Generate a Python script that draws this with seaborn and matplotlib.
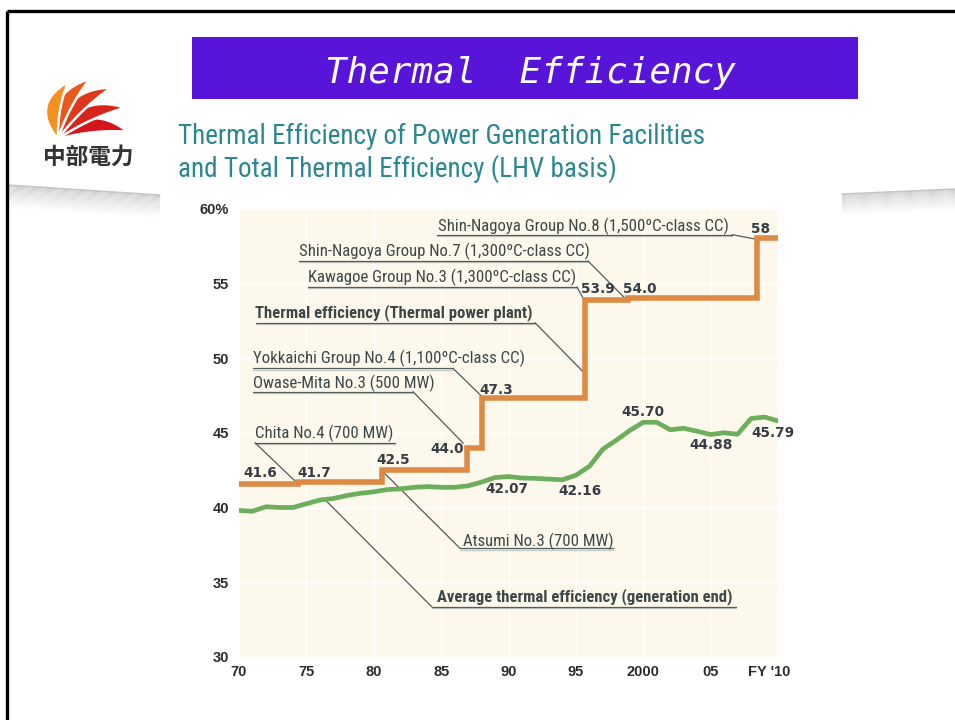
import numpy as np
import matplotlib
matplotlib.use("Agg")
import matplotlib.pyplot as plt
import matplotlib.transforms as mtransforms
from matplotlib import font_manager as fm
from matplotlib.patches import Rectangle, Polygon
import pandas as pd
import seaborn as sns

# ---------------- data ----------------
avg_years = list(range(70, 111))
avg_eff = [39.8, 39.75, 40.05, 40.0, 40.0, 40.25, 40.5, 40.6, 40.8, 40.95,
           41.05, 41.2, 41.25, 41.35, 41.4, 41.35, 41.35, 41.45, 41.7, 42.0,
           42.07, 41.97, 41.95, 41.9, 41.85, 42.16, 42.75, 43.9, 44.5, 45.15,
           45.70, 45.70, 45.2, 45.3, 45.1, 44.88, 45.0, 44.9, 45.95, 46.05,
           45.79]

plant_years = [70, 74.35, 80.6, 86.95, 88.05, 95.65, 98.9, 108.45, 110]
plant_eff = [41.6, 41.7, 42.5, 44.0, 47.3, 53.9, 54.0, 58.0, 58.0]
plant_labels = ["41.6", "41.7", "42.5", "44.0", "47.3", "53.9", "54.0", "58"]

avg_label_text = ["42.07", "42.16", "45.70", "44.88", "45.79"]

x_ticks = [70, 75, 80, 85, 90, 95, 100, 105, 110]
x_tick_labels = ["70", "75", "80", "85", "90", "95", "2000", "05", "FY '10"]
y_ticks = [30, 35, 40, 45, 50, 55, 60]
y_tick_labels = ["30", "35", "40", "45", "50", "55", "60%"]

unit_names = [
    "Shin-Nagoya Group No.8 (1,500ºC-class CC)",
    "Shin-Nagoya Group No.7 (1,300ºC-class CC)",
    "Kawagoe Group No.3 (1,300ºC-class CC)",
    "Thermal efficiency (Thermal power plant)",
    "Yokkaichi Group No.4 (1,100ºC-class CC)",
    "Owase-Mita No.3 (500 MW)",
    "Chita No.4 (700 MW)",
    "Atsumi No.3 (700 MW)",
    "Average thermal efficiency (generation end)",
]

title_text = "Thermal  Efficiency"
subtitle_lines = ["Thermal Efficiency of Power Generation Facilities",
                  "and Total Thermal Efficiency (LHV basis)"]
company_name = "中部電力"

# ---------------- style ----------------
sns.set_theme(style="white")
plt.rcParams["font.family"] = ["DejaVu Sans"]

avail = {f.name for f in fm.fontManager.ttflist}
if "Roboto Condensed" in avail:
    NARROW = dict(family="Roboto Condensed")
    REG_SIZE, BOLD_SIZE, SUB_SIZE = 12.1, 12.0, 19.5
elif "Liberation Sans Narrow" in avail:
    NARROW = dict(family="Liberation Sans Narrow")
    REG_SIZE, BOLD_SIZE, SUB_SIZE = 12.3, 11.5, 19.0
else:
    NARROW = dict(family="DejaVu Sans", stretch="condensed")
    REG_SIZE, BOLD_SIZE, SUB_SIZE = 10.7, 9.7, 17.3
TICKFONT = "Liberation Sans" if "Liberation Sans" in avail else "DejaVu Sans"

ORANGE = "#DD8A45"
GREEN = "#6DAE5C"
CREAM = "#FDF8EC"
LEADER = "#4E5D59"
ANNOT = "#3D4747"
VALUE = "#383D45"
TEAL = "#2A8790"

W, H = 955, 720
fig = plt.figure(figsize=(W / 100, H / 100), dpi=100)
fig.patch.set_facecolor("white")

# background / decoration axes in pixel coordinates
bg = fig.add_axes([0, 0, 1, 1], zorder=-5)
bg.set_xlim(0, W)
bg.set_ylim(H, 0)
bg.axis("off")

# slide swooshes (grey gradient bands)
def swoosh(x0, x1, y0, y1, depth, n=22):
    for k in range(n):
        t0, t1 = k / n, (k + 1) / n
        g = 0.80 + 0.20 * (k / (n - 1)) ** 0.8
        poly = [(x0, y0 + depth * t0), (x1, y1 + depth * t0),
                (x1, y1 + depth * t1), (x0, y0 + depth * t1)]
        bg.add_patch(Polygon(poly, closed=True, fc=(g, g, g), ec="none"))
    bg.plot([x0, x1], [y0, y1], color="#c4c4c4", lw=1.0)

swoosh(8, 160, 185, 195, 24)
swoosh(842, 955, 194, 189, 22)

# frame
bg.plot([6.5, 955], [10.5, 10.5], color="black", lw=2.4, solid_capstyle="butt")
bg.plot([6.5, 6.5], [10.5, 720], color="black", lw=2.4, solid_capstyle="butt")

# banner
bg.add_patch(Rectangle((192, 37), 666, 62, fc="#5814D8", ec="none"))
bg.text(530, 83, title_text, color="white", ha="center", va="baseline",
        family="DejaVu Sans Mono", style="oblique", fontsize=25.8)

# logo: fan of curved crescent petals from a pivot at the lower left
pivot = np.array([58.0, 139.0])
petal_specs = [(84, 70, "#D3161C"), (65, 74, "#D9241C"), (46, 74, "#E0381C"),
               (28, 68, "#E9581C"), (10, 58, "#F3901E")]
tt = np.linspace(0, 1, 30)[:, None]
for ang, L, col in petal_specs:
    a = np.deg2rad(ang)
    d = np.array([np.sin(a), -np.cos(a)])
    nrm = np.array([-np.cos(a), -np.sin(a)])
    tip = pivot + L * d
    mid = pivot + 0.5 * L * d
    c_out = mid + nrm * 34
    c_in = mid + nrm * 6
    outer = (1 - tt) ** 2 * pivot + 2 * (1 - tt) * tt * c_out + tt ** 2 * tip
    inner = (1 - tt) ** 2 * pivot + 2 * (1 - tt) * tt * c_in + tt ** 2 * tip
    pts = np.vstack([outer, inner[::-1]])
    bg.add_patch(Polygon(pts, closed=True, fc=col, ec="white", lw=1.8))
bg.text(88, 157, company_name, ha="center", va="center", fontsize=16.3,
        family=["Noto Sans CJK JP", "DejaVu Sans"], weight="bold", color="#333333")

# subtitle
bg.text(178, 144, subtitle_lines[0], color=TEAL, fontsize=SUB_SIZE, va="baseline",
        ha="left", **NARROW)
bg.text(178, 177, subtitle_lines[1], color=TEAL, fontsize=SUB_SIZE, va="baseline",
        ha="left", **NARROW)

# ---------------- main chart ----------------
ax = fig.add_axes([239 / W, 1 - 657 / H, 539 / W, (657 - 208.5) / H])
ax.set_facecolor(CREAM)
ax.set_xlim(70, 110)
ax.set_ylim(30, 60)
for s in ax.spines.values():
    s.set_visible(False)
ax.grid(True, color="white", lw=1.0)
ax.set_axisbelow(True)

# annotation underlines & leaders:
# (text x, baseline y, underline y, underline x0, x1, leader side, leader target, bold)
annots = [
    (84.77, 58.51, 58.25, 84.69, 106.59, "right", (108.35, 57.95), False),
    (74.45, 56.82, 56.49, 74.45, 95.90, "right", (98.59, 54.05), False),
    (75.12, 55.06, 54.75, 75.12, 95.08, "right", (95.60, 53.90), False),
    (71.19, 52.72, 52.36, 71.26, 91.97, "right", (95.60, 49.02), True),
    (71.02, 49.65, 49.31, 71.02, 85.88, "right", (88.00, 47.45), False),
    (71.04, 47.97, 47.75, 71.04, 82.91, "right", (86.65, 44.29), False),
    (71.19, 44.63, 44.33, 71.19, 81.58, "left", (74.16, 41.77), False),
    (86.65, 37.44, 37.27, 86.40, 97.78, "left", (80.76, 42.33), False),
    (84.67, 33.70, 33.36, 84.30, 106.88, "left", (76.33, 40.57), True),
]
for name, (tx, ty, uy, x0, x1, side, tgt, bold) in zip(unit_names, annots):
    ax.plot([x0, x1], [uy - 0.08, uy - 0.08], color="#c9cbc6", lw=1.0, zorder=2)
    ax.plot([x0, x1], [uy, uy], color=LEADER, lw=0.9, zorder=2)
    sx = x1 if side == "right" else x0
    ax.plot([sx, tgt[0]], [uy, tgt[1]], color=LEADER, lw=0.9, zorder=2)
    ax.text(tx, ty, name, color=ANNOT, fontsize=BOLD_SIZE if bold else REG_SIZE,
            va="baseline", ha="left",
            weight="bold" if bold else "normal", zorder=3, **NARROW)

# lines
df_avg = pd.DataFrame({"year": avg_years, "eff": avg_eff})
df_plant = pd.DataFrame({"year": plant_years, "eff": plant_eff})
sns.lineplot(data=df_avg, x="year", y="eff", ax=ax, color=GREEN, lw=3.4,
             zorder=4, solid_joinstyle="round")
sns.lineplot(data=df_plant, x="year", y="eff", ax=ax, color=ORANGE, lw=4.0,
             drawstyle="steps-post", zorder=5, solid_joinstyle="miter",
             solid_capstyle="butt")

# value labels
plant_label_pos = [(71.56, 42.29), (75.57, 42.31), (81.45, 43.18), (85.41, 43.89),
                   (89.12, 47.86), (96.64, 54.62), (99.76, 54.62), (108.72, 58.61)]
avg_label_pos = [(89.91, 41.22), (95.31, 41.10), (100.0, 46.41), (105.03, 44.18),
                 (109.65, 44.96)]
for txt, (lx, ly) in zip(plant_labels + avg_label_text, plant_label_pos + avg_label_pos):
    ax.text(lx, ly, txt, ha="center", va="center", fontsize=9.8, weight="bold",
            color=VALUE, family="DejaVu Sans", zorder=6, clip_on=False)

# ticks
ax.set_xticks(x_ticks)
ax.set_xticklabels(x_tick_labels)
ax.set_yticks(y_ticks)
ax.set_yticklabels(y_tick_labels)
ax.tick_params(axis="both", length=0, colors="#2c2c2c")
ax.tick_params(axis="y", pad=7.2)
ax.tick_params(axis="x", pad=5.5)
for lab in ax.get_xticklabels() + ax.get_yticklabels():
    lab.set_fontfamily(TICKFONT)
    lab.set_fontweight("bold")
    lab.set_fontsize(10.5)
    lab.set_color("#2c2c2c")
last = ax.get_xticklabels()[-1]
last.set_transform(last.get_transform() +
                   mtransforms.ScaledTranslation(-9 / 100, 0, fig.dpi_scale_trans))
ax.set_xlabel("")
ax.set_ylabel("")
leg = ax.get_legend()
if leg:
    leg.remove()

fig.savefig("out.png", dpi=100, facecolor="white")
